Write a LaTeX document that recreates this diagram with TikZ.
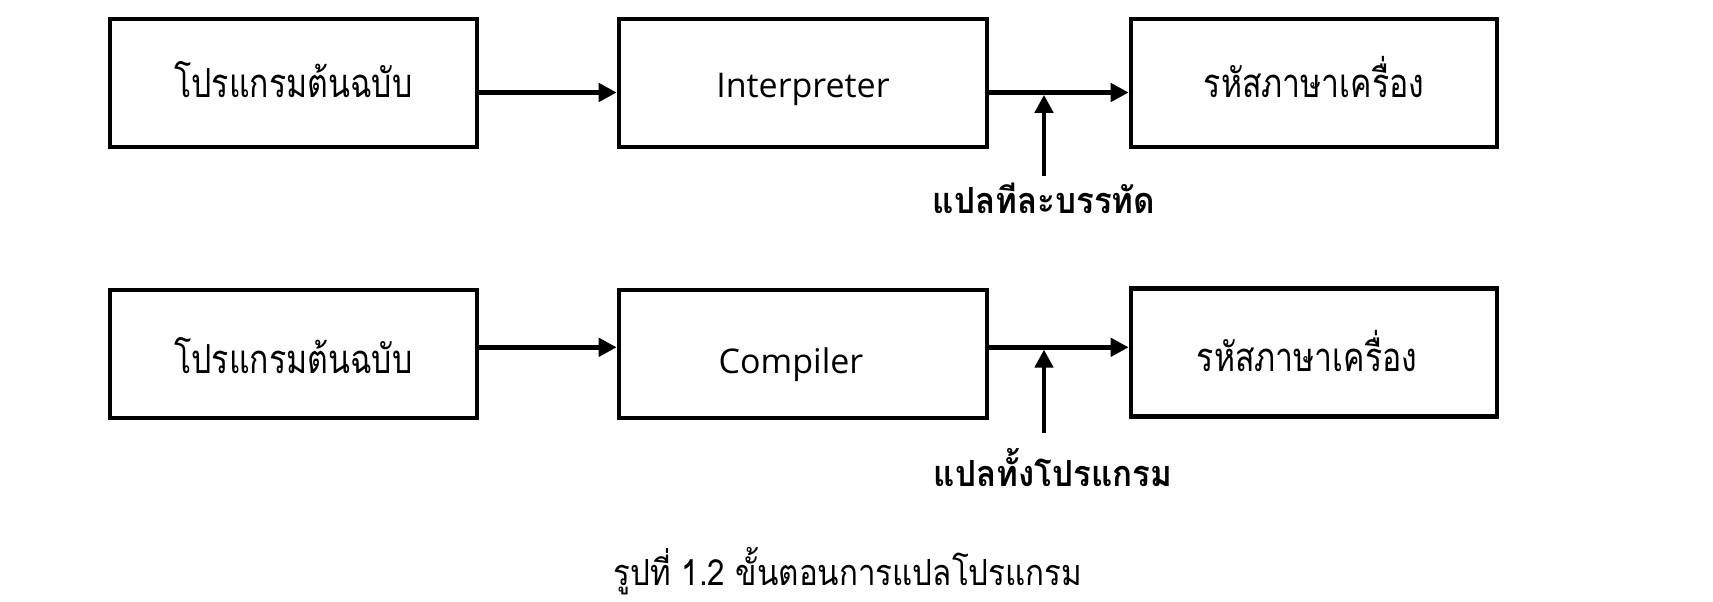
\documentclass[tikz,border=0pt]{standalone}
\usepackage{fontspec}
\setmainfont[Script=Thai]{Loma}
\newfontfamily\thaiboxfont[Script=Thai,FakeStretch=0.8]{Loma}
\newfontfamily\thailabfont[Script=Thai,FakeStretch=0.92]{Loma}
\newfontfamily\thaicapfont[Script=Thai,FakeStretch=0.87]{Loma}
\newfontfamily\latinfont{Open Sans}
\usetikzlibrary{arrows.meta}
\begin{document}
\begin{tikzpicture}[x=0.5pt,y=-0.5pt,
  boxnode/.style={draw, line width=2.3pt, inner sep=0pt, minimum height=64pt, text depth=0pt},
  thaibox/.style={font=\thaiboxfont\fontsize{20}{22}\selectfont},
  latbox/.style={font=\latinfont\fontsize{17}{19}\selectfont},
  arr/.style={line width=2.3pt, -{Triangle[length=9pt,width=9pt]}},
  lab/.style={font=\thailabfont\bfseries\fontsize{18}{20}\selectfont, inner sep=0pt, text depth=0pt, anchor=north},
  captext/.style={font=\thaicapfont\fontsize{18}{20}\selectfont, inner sep=0pt, anchor=base}]
\useasboundingbox (0,0) rectangle (1713,601);
% row 1
\node[boxnode, thaibox, minimum width=183.5pt, text height=14.3pt] (a1) at (293.5,83) {โปรแกรมต้นฉบับ};
\node[boxnode, latbox, minimum width=184pt, text height=14.3pt] (a2) at (803,83) {Interpreter};
\node[boxnode, thaibox, minimum width=183pt, text height=14.3pt] (a3) at (1314,83) {รหัสภาษาเครื่อง};
\coordinate (r1) at (0,92.5);
\coordinate (j1) at (1044,94.8);
\node[lab, text height=18.5pt] (l1) at (1044,176) {แปลทีละบรรทัด};
\draw[arr] (a1.east |- r1) -- (a2.west |- r1);
\draw[arr] (a2.east |- r1) -- (a3.west |- r1);
\draw[arr] (l1.north) -- (j1);
% row 2
\node[boxnode, thaibox, minimum width=183.5pt, text height=19.3pt] (b1) at (293.5,354) {โปรแกรมต้นฉบับ};
\node[boxnode, latbox, minimum width=184pt, text height=19.3pt] (b2) at (803,354) {\kern-12pt Compiler};
\node[boxnode, thaibox, minimum width=183pt, text height=19.4pt] (b3) at (1314,352.5) {\kern-7pt รหัสภาษาเครื่อง};
\coordinate (r2) at (0,347.3);
\coordinate (j2) at (1044,349.6);
\node[lab, text height=26.5pt] (l2) at (1053,432.7) {แปลทั้งโปรแกรม};
\draw[arr] (b1.east |- r2) -- (b2.west |- r2);
\draw[arr] (b2.east |- r2) -- (b3.west |- r2);
\draw[arr] (l2.north -| j2) -- (j2);
% caption
\node[captext] (c) at (848,585) {รูปที่ 1.2 ขั้นตอนการแปลโปรแกรม};
\end{tikzpicture}
\end{document}
